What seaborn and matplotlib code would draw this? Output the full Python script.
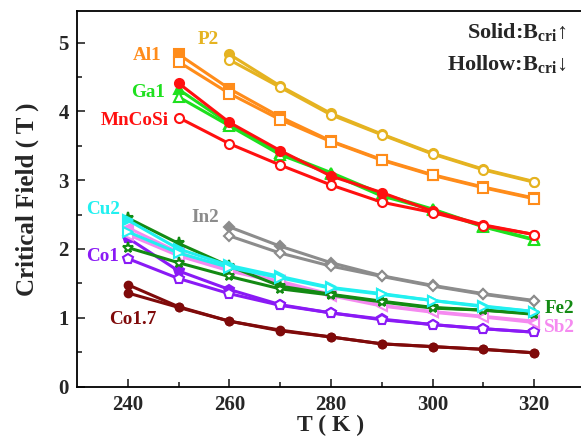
import matplotlib
matplotlib.use("Agg")
import matplotlib.pyplot as plt
import seaborn as sns
import pandas as pd

# ---- data ----
T_all = [240, 250, 260, 270, 280, 290, 300, 310, 320]
T_250 = T_all[1:]
T_260 = T_all[2:]

P2_solid = [4.83, 4.37, 3.97, 3.67, 3.39, 3.16, 2.98]
P2_hollow = [4.75, 4.35, 3.95, 3.66, 3.38, 3.15, 2.97]
Al1_solid = [4.83, 4.33, 3.92, 3.57, 3.30, 3.08, 2.90, 2.74]
Al1_hollow = [4.72, 4.26, 3.88, 3.56, 3.29, 3.07, 2.89, 2.73]
Ga1_solid = [4.32, 3.82, 3.40, 3.11, 2.80, 2.58, 2.33, 2.14]
Ga1_hollow = [4.21, 3.79, 3.37, 3.09, 2.77, 2.57, 2.32, 2.13]
MnCoSi_solid = [4.41, 3.84, 3.43, 3.06, 2.82, 2.55, 2.35, 2.21]
MnCoSi_hollow = [3.91, 3.53, 3.22, 2.93, 2.68, 2.53, 2.34, 2.21]
In2_solid = [2.32, 2.04, 1.80, 1.61, 1.47, 1.35, 1.25]
In2_hollow = [2.19, 1.94, 1.75, 1.60, 1.46, 1.34, 1.24]
Cu2_solid = [2.42, 2.00, 1.76, 1.60, 1.44, 1.35, 1.25, 1.17, 1.09]
Cu2_hollow = [2.25, 1.94, 1.73, 1.58, 1.43, 1.34, 1.25, 1.16, 1.09]
Fe2_solid = [2.45, 2.08, 1.75, 1.46, 1.34, 1.24, 1.15, 1.11, 1.06]
Fe2_hollow = [2.02, 1.80, 1.60, 1.42, 1.33, 1.23, 1.14, 1.11, 1.05]
Sb2_solid = [2.31, 1.95, 1.70, 1.53, 1.34, 1.18, 1.09, 1.02, 0.95]
Sb2_hollow = [2.21, 1.90, 1.68, 1.51, 1.32, 1.17, 1.08, 1.01, 0.93]
Co1_solid = [2.16, 1.68, 1.41, 1.19, 1.07, 0.98, 0.90, 0.84, 0.79]
Co1_hollow = [1.86, 1.57, 1.35, 1.18, 1.07, 0.97, 0.90, 0.84, 0.79]
Co17_solid = [1.48, 1.16, 0.95, 0.82, 0.72, 0.62, 0.58, 0.54, 0.49]
Co17_hollow = [1.36, 1.15, 0.95, 0.81, 0.72, 0.62, 0.58, 0.54, 0.49]

x_ticks = [240, 260, 280, 300, 320]
y_ticks = [0, 1, 2, 3, 4, 5]

sns.set_style("ticks")
plt.rcParams['font.family'] = ['Liberation Serif', 'DejaVu Serif']
plt.rcParams['font.weight'] = 'bold'
plt.rcParams['mathtext.fontset'] = 'custom'
plt.rcParams['mathtext.rm'] = 'Liberation Serif:bold'
plt.rcParams['mathtext.bf'] = 'Liberation Serif:bold'
plt.rcParams['mathtext.it'] = 'Liberation Serif:bold'

fig = plt.figure(figsize=(5.81, 4.47), dpi=100)
ax = fig.add_axes([77 / 581, (447 - 386.5) / 447, (584 - 77) / 581, (386.5 - 11) / 447])

series = [
    ("P2", T_260, P2_solid, P2_hollow, "#E5B321", "o", 6.5),
    ("Al1", T_250, Al1_solid, Al1_hollow, "#FF8C1A", "s", 6.5),
    ("Ga1", T_250, Ga1_solid, Ga1_hollow, "#1EE01E", "^", 7),
    ("MnCoSi", T_250, MnCoSi_solid, MnCoSi_hollow, "#FF1010", "o", 6.5),
    ("In2", T_260, In2_solid, In2_hollow, "#8C8C8C", "D", 5.5),
    ("Co1.7", T_all, Co17_solid, Co17_hollow, "#7F0A0A", "o", 5.5),
    ("Co1", T_all, Co1_solid, Co1_hollow, "#8A1AF5", "p", 7),
    ("Sb2", T_all, Sb2_solid, Sb2_hollow, "#F58AF0", "<", 7),
    ("Fe2", T_all, Fe2_solid, Fe2_hollow, "#138A13", "*", 8),
    ("Cu2", T_all, Cu2_solid, Cu2_hollow, "#22F0F0", ">", 7),
]

for name, xs, solid, hollow, col, mk, ms in series:
    df_s = pd.DataFrame({"T": xs, "B": solid})
    df_h = pd.DataFrame({"T": xs, "B": hollow})
    sns.lineplot(data=df_s, x="T", y="B", ax=ax, color=col, marker=mk,
                 markersize=ms, markerfacecolor=col, markeredgecolor=col,
                 markeredgewidth=1.5, linewidth=2.2)
    hollow_face = col if name == "Co1.7" else "white"
    sns.lineplot(data=df_h, x="T", y="B", ax=ax, color=col, marker=mk,
                 markersize=ms, markerfacecolor=hollow_face, markeredgecolor=col,
                 markeredgewidth=1.5, linewidth=2.2)

ax.set_xlim(230, 329.8)
ax.set_ylim(0, 5.46)
ax.set_xticks(x_ticks)
ax.set_xticks([250, 270, 290, 310], minor=True)
ax.set_yticks(y_ticks)
ax.set_yticks([0.5, 1.5, 2.5, 3.5, 4.5], minor=True)
ax.tick_params(axis='both', which='major', direction='in', length=6, width=1.2,
               labelsize=15, pad=6)
ax.tick_params(axis='both', which='minor', direction='in', length=3.5, width=1.2)
for lab in ax.get_xticklabels() + ax.get_yticklabels():
    lab.set_fontweight('bold')

for s in ['left', 'bottom', 'top']:
    ax.spines[s].set_linewidth(1.3)
    ax.spines[s].set_color('black')
ax.spines['right'].set_visible(False)

ax.set_xlabel("T ( K )", fontsize=17, fontweight='bold', labelpad=0)
ax.set_ylabel("Critical Field ( T )", fontsize=18, fontweight='bold', labelpad=14)

lab_fs = 13.8
def lbl(x, y, s, c, ha='center'):
    ax.text(x, y, s, color=c, fontsize=lab_fs, fontweight='bold', ha=ha, va='center')

lbl(255.8, 5.04, "P2", "#E5B321")
lbl(243.8, 4.82, "Al1", "#FF8C1A")
lbl(244.0, 4.27, "Ga1", "#1EE01E")
lbl(241.3, 3.87, "MnCoSi", "#FF1010")
lbl(235.1, 2.57, "Cu2", "#22F0F0")
lbl(255.2, 2.46, "In2", "#8C8C8C")
lbl(235.1, 1.89, "Co1", "#8A1AF5")
lbl(241.0, 0.98, "Co1.7", "#7F0A0A")
lbl(325.0, 1.14, "Fe2", "#138A13")
lbl(325.0, 0.86, "Sb2", "#F58AF0")

ax.text(0.965, 0.945, r"Solid:B$_{\mathrm{cri}}$↑", transform=ax.transAxes,
        fontsize=16, fontweight='bold', ha='right', va='center')
ax.text(0.965, 0.858, r"Hollow:B$_{\mathrm{cri}}$↓", transform=ax.transAxes,
        fontsize=16, fontweight='bold', ha='right', va='center')

fig.savefig("out.png", dpi=100)
